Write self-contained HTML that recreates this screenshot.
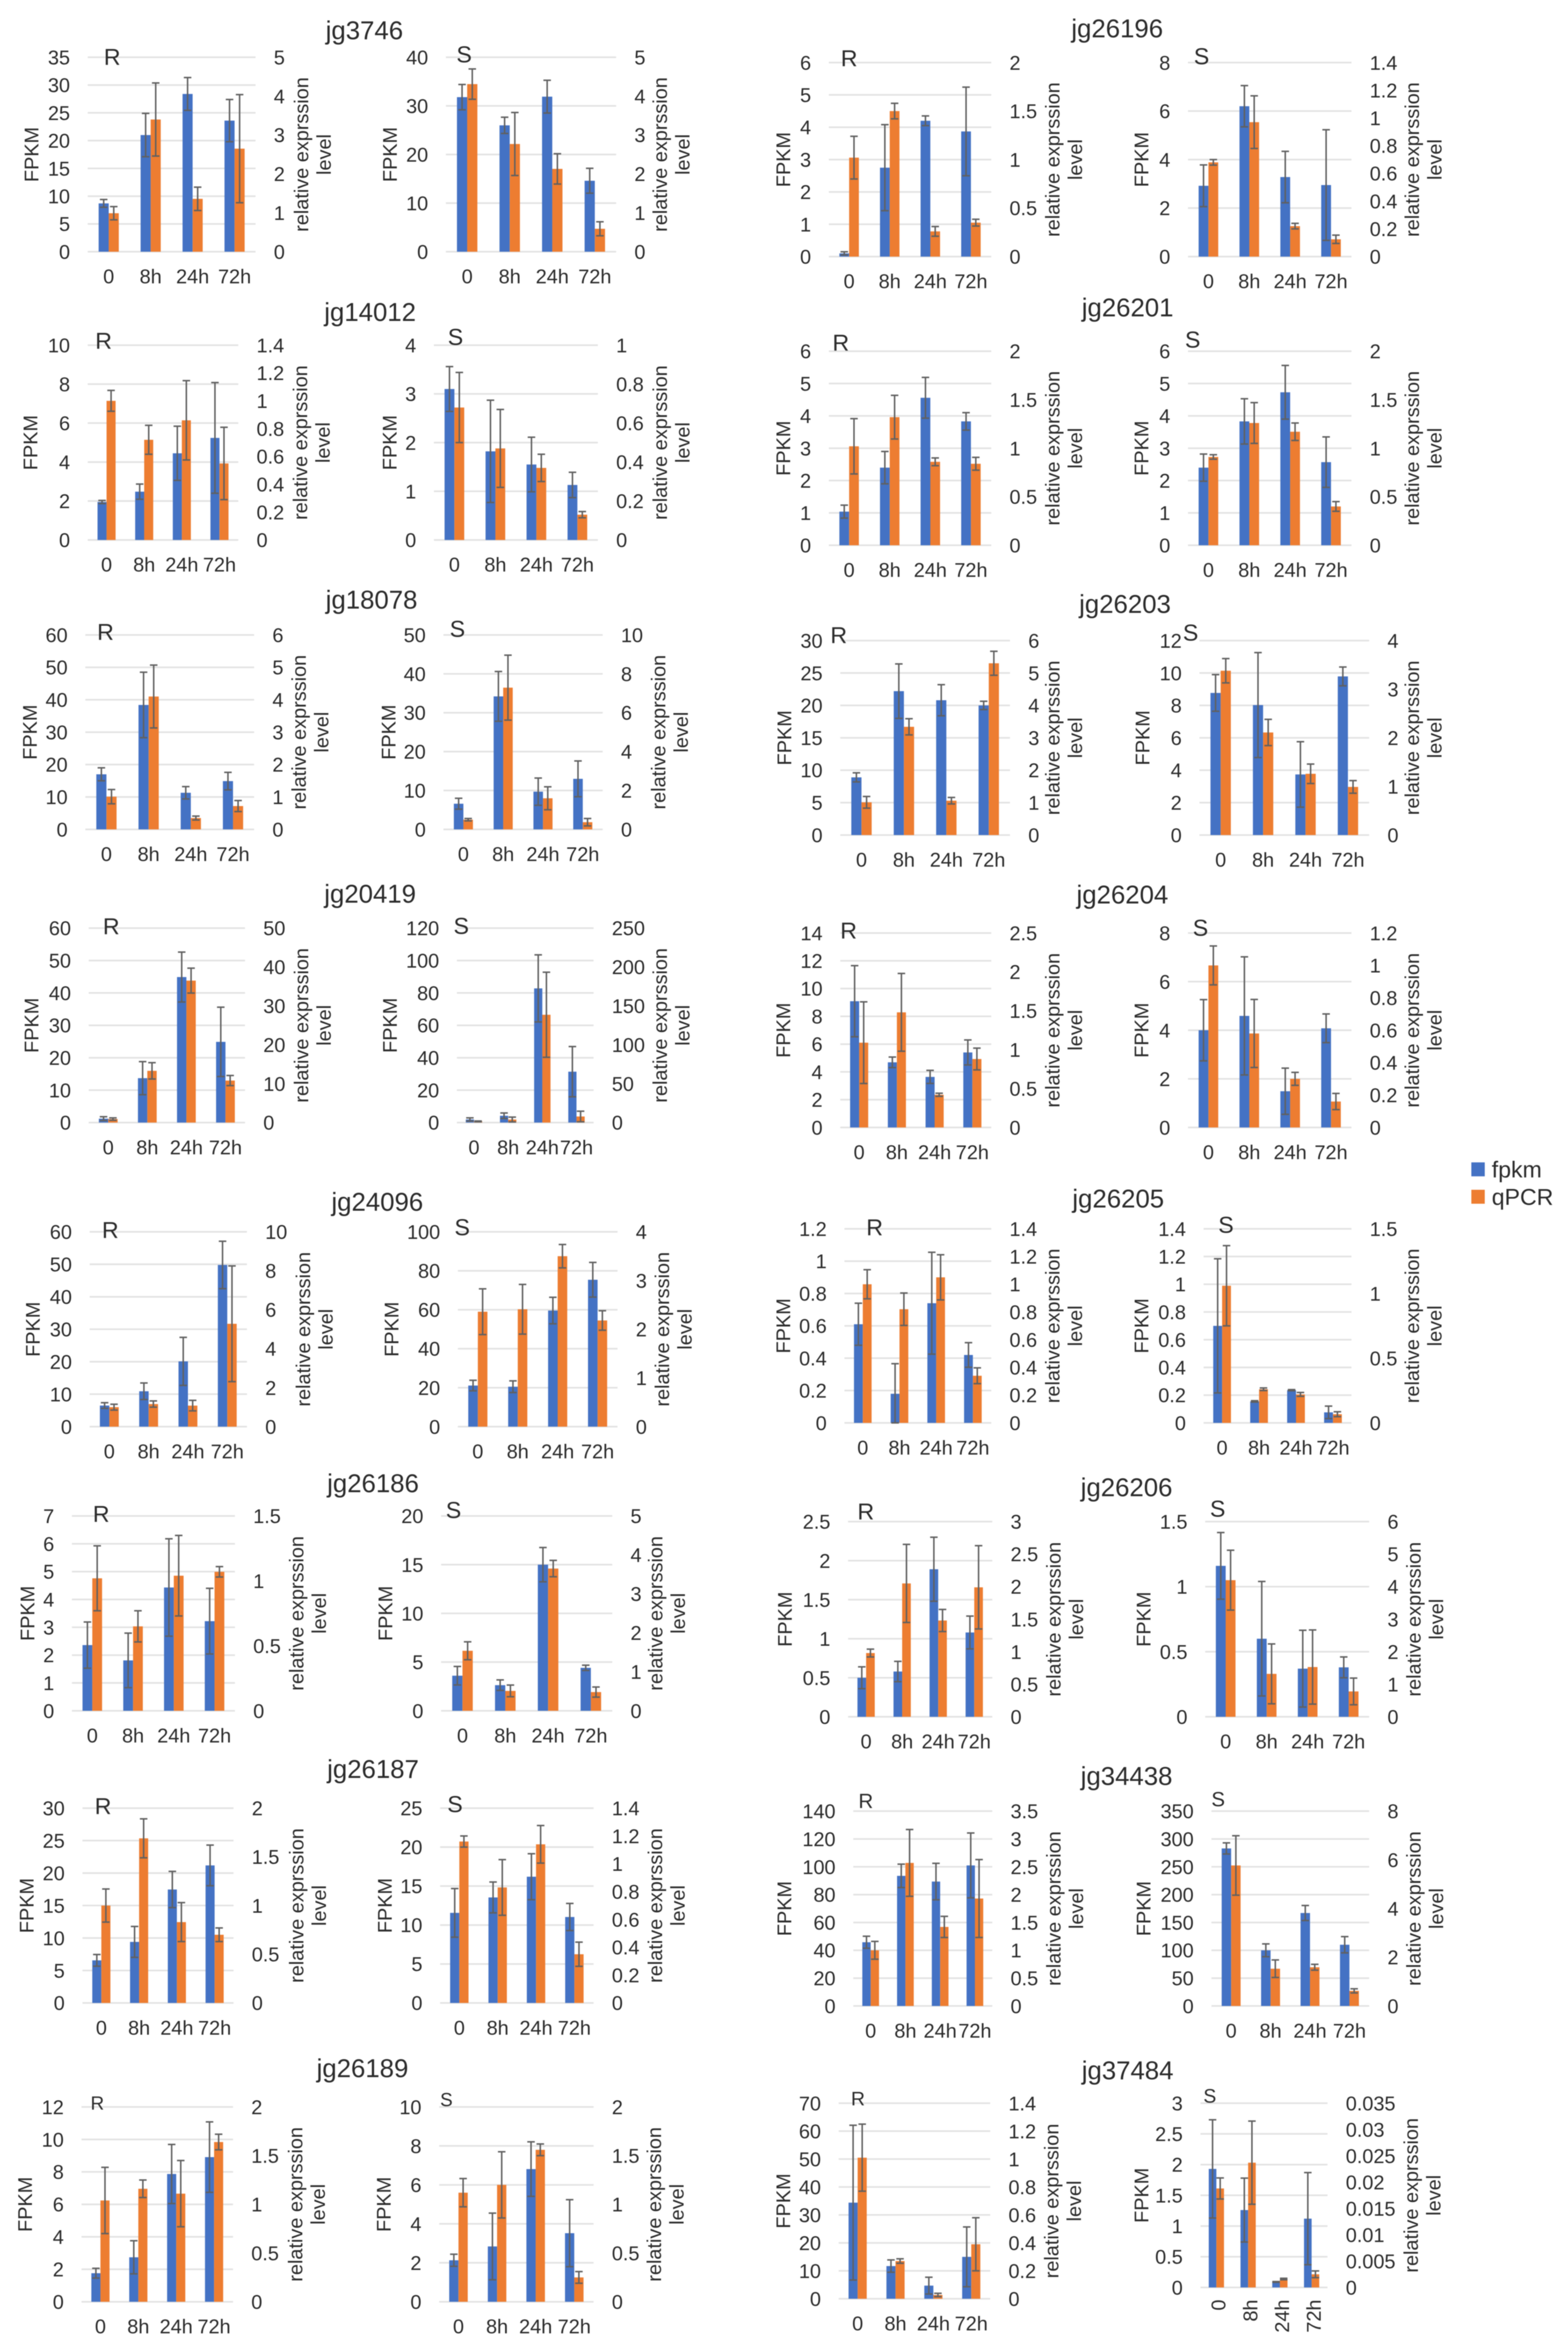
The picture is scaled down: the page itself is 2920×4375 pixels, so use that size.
<!DOCTYPE html>
<html lang="en">
<head>
<meta charset="utf-8">
<title>FPKM and qPCR expression charts</title>
<style>
html,body{margin:0;padding:0;background:#fff;width:2920px;height:4375px;overflow:hidden}
#figure{display:block;filter:blur(0.8px)}
text{font-family:"Liberation Sans",Arial,sans-serif;fill:#2b2b2b}
</style>
</head>
<body>
<svg id="figure" xmlns="http://www.w3.org/2000/svg" width="2920" height="4375" viewBox="0 0 2920 4375"></svg>
<script>
const geneNames = ['jg3746','jg14012','jg26196','jg26201','jg18078','jg20419','jg26203','jg26204','jg24096','jg26186','jg26205','jg26206','jg26187','jg26189','jg34438','jg37484'];
const panelGenes = ['jg3746','jg3746','jg14012','jg14012','jg26196','jg26196','jg26201','jg26201','jg18078','jg18078','jg20419','jg20419','jg26203','jg26203','jg26204','jg26204','jg24096','jg24096','jg26186','jg26186','jg26205','jg26205','jg26206','jg26206','jg26187','jg26187','jg26189','jg26189','jg34438','jg34438','jg37484','jg37484'];
const conditions = ['R','S','R','S','R','S','R','S','R','S','R','S','R','S','R','S','R','S','R','S','R','S','R','S','R','S','R','S','R','S','R','S'];
const categories = ['0','8h','24h','72h'];
const seriesNames = ['fpkm','qPCR'];

const leftTicks = [
[0,5,10,15,20,25,30,35],[0,10,20,30,40],[0,2,4,6,8,10],[0,1,2,3,4],
[0,1,2,3,4,5,6],[0,2,4,6,8],[0,1,2,3,4,5,6],[0,1,2,3,4,5,6],
[0,10,20,30,40,50,60],[0,10,20,30,40,50],[0,10,20,30,40,50,60],[0,20,40,60,80,100,120],
[0,5,10,15,20,25,30],[0,2,4,6,8,10,12],[0,2,4,6,8,10,12,14],[0,2,4,6,8],
[0,10,20,30,40,50,60],[0,20,40,60,80,100],[0,1,2,3,4,5,6,7],[0,5,10,15,20],
[0,0.2,0.4,0.6,0.8,1,1.2],[0,0.2,0.4,0.6,0.8,1,1.2,1.4],[0,0.5,1,1.5,2,2.5],[0,0.5,1,1.5],
[0,5,10,15,20,25,30],[0,5,10,15,20,25],[0,2,4,6,8,10,12],[0,2,4,6,8,10],
[0,20,40,60,80,100,120,140],[0,50,100,150,200,250,300,350],[0,10,20,30,40,50,60,70],[0,0.5,1,1.5,2,2.5,3]
];
const rightTicks = [
[0,1,2,3,4,5],[0,1,2,3,4,5],[0,0.2,0.4,0.6,0.8,1,1.2,1.4],[0,0.2,0.4,0.6,0.8,1],
[0,0.5,1,1.5,2],[0,0.2,0.4,0.6,0.8,1,1.2,1.4],[0,0.5,1,1.5,2],[0,0.5,1,1.5,2],
[0,1,2,3,4,5,6],[0,2,4,6,8,10],[0,10,20,30,40,50],[0,50,100,150,200,250],
[0,1,2,3,4,5,6],[0,1,2,3,4],[0,0.5,1,1.5,2,2.5],[0,0.2,0.4,0.6,0.8,1,1.2],
[0,2,4,6,8,10],[0,1,2,3,4],[0,0.5,1,1.5],[0,1,2,3,4,5],
[0,0.2,0.4,0.6,0.8,1,1.2,1.4],[0,0.5,1,1.5],[0,0.5,1,1.5,2,2.5,3],[0,1,2,3,4,5,6],
[0,0.5,1,1.5,2],[0,0.2,0.4,0.6,0.8,1,1.2,1.4],[0,0.5,1,1.5,2],[0,0.5,1,1.5,2],
[0,0.5,1,1.5,2,2.5,3,3.5],[0,2,4,6,8],[0,0.2,0.4,0.6,0.8,1,1.2,1.4],[0,0.005,0.01,0.015,0.02,0.025,0.03,0.035]
];

const fpkmValues = [
[8.7,21,28.4,23.6],[31.8,26,31.9,14.6],[1.95,2.48,4.45,5.24],[3.1,1.82,1.55,1.13],
[0.1,2.75,4.2,3.87],[2.92,6.2,3.28,2.95],[1.04,2.4,4.56,3.83],[2.4,3.83,4.73,2.57],
[17,38.4,11.3,14.9],[6.6,34.2,9.7,13],[1.2,13.7,44.9,24.9],[1.9,4.2,82.8,31.4],
[8.9,22.2,20.8,20],[8.77,8.02,3.74,9.79],[9.09,4.69,3.64,5.4],[4,4.59,1.49,4.08],
[6.5,10.9,20.1,49.8],[21.1,20.5,59.6,75.4],[2.36,1.81,4.43,3.22],[3.6,2.63,15,4.41],
[0.61,0.18,0.74,0.42],[0.7,0.155,0.236,0.076],[0.5,0.58,1.89,1.08],[1.16,0.6,0.37,0.38],
[6.56,9.4,17.47,21.18],[11.56,13.54,16.2,11.03],[1.76,2.74,7.87,8.91],[2.13,2.84,6.81,3.52],
[45.8,93.5,89.4,101],[283,100,167,110],[34.4,11.7,4.7,15],[1.93,1.26,0.09,1.12]
];
const fpkmErrors = [
[0.7,3.9,2.95,3.8],[2.6,1.67,3.37,2.56],[0.08,0.39,1.39,2.84],[0.46,1.05,0.56,0.26],
[0.05,1.33,0.15,1.37],[0.86,0.85,1.06,2.28],[0.2,0.5,0.63,0.27],[0.42,0.7,0.83,0.78],
[2,10.1,1.9,2.7],[1.4,6.4,3.5,4.6],[0.6,5.1,7.7,10.7],[1,1.7,20.7,15.5],
[0.7,4.2,2.4,0.64],[1.13,3.24,2.02,0.58],[2.56,0.38,0.47,0.9],[1.26,2.43,0.95,0.59],
[0.87,2.55,7.4,7.3],[2.7,3,6.8,8.9],[0.83,0.98,1.75,1.18],[0.95,0.54,1.76,0.27],
[0.13,0.186,0.315,0.076],[0.484,0.005,0.004,0.045],[0.14,0.13,0.41,0.21],[0.256,0.44,0.295,0.08],
[0.9,2.38,2.79,3.13],[3.12,1.98,2.95,1.74],[0.3,1.02,1.82,2.17],[0.31,1.71,1.4,1.72],
[4.3,8.4,13.1,23.3],[10,11.5,13.5,14.6],[27.7,2.2,3,10.7],[0.8,0.52,0.006,0.75]
];
const qpcrValues = [
[0.99,3.4,1.36,2.65],[4.31,2.77,2.13,0.59],[1,0.72,0.86,0.55],[0.68,0.47,0.37,0.13],
[1.02,1.5,0.26,0.35],[0.68,0.97,0.22,0.125],[1.02,1.32,0.86,0.84],[0.91,1.26,1.17,0.4],
[1.01,4.1,0.35,0.72],[0.5,7.29,1.6,0.37],[0.9,13.3,36.5,10.8],[1.5,3.9,138.6,7.8],
[1.01,3.34,1.06,5.3],[3.38,2.11,1.26,0.99],[1.09,1.48,0.42,0.88],[1,0.58,0.3,0.16],
[1,1.16,1.08,5.28],[2.36,2.41,3.5,2.18],[1.02,0.65,1.04,1.07],[1.54,0.51,3.65,0.48],
[1,0.82,1.05,0.34],[1.06,0.26,0.22,0.067],[0.98,2.05,1.48,1.99],[4.2,1.32,1.53,0.78],
[1,1.69,0.83,0.7],[1.16,0.83,1.14,0.35],[1.04,1.16,1.11,1.64],[1.12,1.2,1.56,0.25],
[1,2.57,1.42,1.93],[5.77,1.53,1.59,0.62],[1.01,0.27,0.027,0.39],[0.0188,0.0237,0.0016,0.0025]
];
const qpcrErrors = [
[0.17,0.94,0.3,1.39],[0.39,0.81,0.39,0.18],[0.075,0.104,0.285,0.26],[0.18,0.2,0.07,0.016],
[0.22,0.08,0.05,0.035],[0.02,0.19,0.02,0.03],[0.285,0.225,0.04,0.066],[0.023,0.21,0.09,0.05],
[0.22,0.97,0.06,0.17],[0.06,1.67,0.59,0.19],[0.3,2.1,3.2,1.3],[0.5,3.1,54.7,6.8],
[0.18,0.25,0.1,0.37],[0.25,0.27,0.2,0.13],[0.525,0.5,0.02,0.14],[0.12,0.21,0.04,0.05],
[0.15,0.16,0.27,2.97],[0.47,0.51,0.24,0.2],[0.25,0.12,0.31,0.04],[0.23,0.15,0.21,0.13],
[0.105,0.117,0.163,0.057],[0.31,0.01,0.015,0.019],[0.06,0.6,0.17,0.64],[0.92,0.92,1.14,0.41],
[0.17,0.2,0.2,0.07],[0.04,0.2,0.135,0.087],[0.34,0.09,0.34,0.08],[0.145,0.34,0.06,0.06],
[0.16,0.6,0.19,0.7],[1.22,0.36,0.12,0.085],[0.24,0.016,0.012,0.19],[0.002,0.0079,0.00014,0.00064]
];

/* ---------- page layout (not data): plot frames measured on the reference ---------- */
const COL_LEFT = 1.12, COL_RIGHT = 1568 / 1520, ROW = 1568 / 1100;
function regionToPage(region, zx, zy) {
  const right = region % 2 === 1;
  const rowOffset = [0, 1100, 2200, 3275][Math.floor(region / 2)];
  return { x: (right ? 1400 : 0) + zx / (right ? COL_RIGHT : COL_LEFT), y: rowOffset + zy / ROW };
}
/* region, plotLeft, plotRight, plotTop, plotBottom, fpkmTitleX, relTitleX, markX, markY, markSize */
const frames = [
[0,183,533,152,668,65,632,234,150,43],[0,930,1285,152,668,813,1380,968,143,43],
[0,183,497,916,1433,63,630,216,903,43],[0,905,1247,916,1433,812,1380,950,893,43],
[1,148,460,166,681,60,581,187,153,43],[1,838,1152,166,681,748,1272,864,148,43],
[1,148,460,932,1447,60,581,171,908,43],[1,838,1152,932,1447,748,1272,847,900,43],
[2,178,530,117,633,62,627,220,108,43],[2,925,1257,117,633,810,1377,954,100,43],
[2,185,511,895,1411,65,632,232,889,43],[2,953,1238,895,1411,813,1380,962,888,43],
[3,170,496,132,648,62,581,167,116,43],[3,860,1186,132,648,750,1272,843,110,43],
[3,170,460,908,1424,60,581,186,900,43],[3,838,1152,908,1424,748,1272,862,893,43],
[4,187,515,133,650,68,636,230,127,43],[4,955,1288,133,650,816,1385,964,120,43],
[4,150,490,887,1404,57,622,211,880,43],[4,920,1277,887,1404,803,1371,946,870,43],
[5,178,460,125,640,60,581,236,120,43],[5,868,1152,125,640,748,1272,911,113,43],
[5,185,462,902,1420,63,583,219,874,43],[5,871,1186,902,1420,752,1275,895,867,43],
[6,172,487,130,647,55,622,215,123,43],[6,918,1238,130,647,802,1370,949,118,43],
[6,170,486,923,1440,52,620,203,912,35],[6,916,1238,923,1440,800,1368,931,903,35],
[7,195,462,138,655,62,583,219,110,38],[7,883,1186,138,655,752,1275,896,105,38],
[7,167,458,913,1432,60,579,204,900,36],[7,862,1106,913,1402,748,1270,880,893,36]
];
/* region, centreX, centreY of each gene heading */
const titleSpots = [
[0,760,82],[0,772,830],[1,702,77],[1,722,818],[2,775,25],[2,772,806],[3,717,37],[3,712,808],
[4,787,55],[4,778,802],[5,704,47],[5,720,813],[6,778,28],[6,756,822],[7,720,47],[7,722,828]
];

const NS = 'http://www.w3.org/2000/svg';
const figure = document.getElementById('figure');
const BLUE = '#4472c4', ORANGE = '#ed7d31', GRID = '#e2e2e2', ERR = '#606060';
const TICK_SIZE = 37, LABEL_SIZE = 37, TITLE_SIZE = 48;

function make(parent, tag, attrs, text) {
  const el = document.createElementNS(NS, tag);
  for (const k in attrs) el.setAttribute(k, attrs[k]);
  if (text !== undefined) el.textContent = text;
  parent.appendChild(el);
  return el;
}
function axisScale(ticks, top, bottom) {
  const max = ticks[ticks.length - 1];
  return v => bottom - (v / max) * (bottom - top);
}
function categoryScale(left, right, count) {
  const step = (right - left) / count;
  return i => left + (i + 0.5) * step;
}
function drawErrorBar(group, x, yScale, value, err, series) {
  const hi = yScale(value + err), lo = yScale(Math.max(0, value - err));
  const stem = make(group, 'line', { x1: x, x2: x, y1: hi, y2: lo, stroke: ERR, 'stroke-width': 2.8 });
  
  
  [hi, lo].forEach(y => {
    const cap = make(group, 'line', { x1: x - 7, x2: x + 7, y1: y, y2: y, stroke: ERR, 'stroke-width': 2.8 });
    
    
  });
}
function drawPanel(p) {
  const f = frames[p];
  const tl = regionToPage(f[0], f[1], f[3]);
  const br = regionToPage(f[0], f[2], f[4]);
  const left = tl.x, right = br.x, top = tl.y, bottom = br.y;
  const catX = categoryScale(left, right, categories.length);
  const yLeft = axisScale(leftTicks[p], top, bottom);
  const yRight = axisScale(rightTicks[p], top, bottom);
  const barW = 0.24 * (right - left) / categories.length;
  const midY = (top + bottom) / 2;

  const group = make(figure, 'g', {});
  
  

  leftTicks[p].forEach(t => {
    const y = yLeft(t);
    const line = make(group, 'line', { x1: left, x2: right, y1: y, y2: y, stroke: GRID, 'stroke-width': 3 });
    
    
    const label = make(group, 'text', { x: left - 33, y: y + 0.36 * TICK_SIZE, 'font-size': TICK_SIZE, 'text-anchor': 'end' }, String(t));
    
    
  });
  rightTicks[p].forEach(t => {
    const label = make(group, 'text', { x: right + 34, y: yRight(t) + 0.36 * TICK_SIZE, 'font-size': TICK_SIZE }, String(t));
    
    
  });

  categories.forEach((c, i) => {
    const cx = catX(i);
    const fpkmBar = make(group, 'rect', { x: cx - barW, y: yLeft(fpkmValues[p][i]), width: barW, height: bottom - yLeft(fpkmValues[p][i]), fill: BLUE });
    
    
    const qpcrBar = make(group, 'rect', { x: cx, y: yRight(qpcrValues[p][i]), width: barW, height: bottom - yRight(qpcrValues[p][i]), fill: ORANGE });
    
    
  });
  categories.forEach((c, i) => {
    const cx = catX(i);
    drawErrorBar(group, cx - barW / 2, yLeft, fpkmValues[p][i], fpkmErrors[p][i], 'fpkm');
    drawErrorBar(group, cx + barW / 2, yRight, qpcrValues[p][i], qpcrErrors[p][i], 'qpcr');
    let attrs;
    if (p === 31) {
      const tx = cx + 17, ty = regionToPage(f[0], 0, 1434).y;
      attrs = { x: tx, y: ty, 'font-size': TICK_SIZE, 'text-anchor': 'end', transform: 'rotate(-90 ' + tx + ' ' + ty + ')' };
    } else {
      attrs = { x: cx, y: bottom + 65 / ROW + 0.36 * TICK_SIZE, 'font-size': TICK_SIZE, 'text-anchor': 'middle' };
    }
    const label = make(group, 'text', attrs, c);
    
    
  });

  const fx = regionToPage(f[0], f[5], 0).x + 0.36 * LABEL_SIZE;
  const yTitle = make(group, 'text', { x: fx, y: midY, 'font-size': LABEL_SIZE, 'text-anchor': 'middle', transform: 'rotate(-90 ' + fx + ' ' + midY + ')' }, 'FPKM');
  
  

  const rx = regionToPage(f[0], f[6], 0).x + 0.26 * LABEL_SIZE;
  const rel1 = make(group, 'text', { x: rx, y: midY, 'font-size': LABEL_SIZE, 'text-anchor': 'middle', transform: 'rotate(-90 ' + rx + ' ' + midY + ')' }, 'relative exprssion');
  
  
  const rx2 = rx + 42;
  const rel2 = make(group, 'text', { x: rx2, y: midY, 'font-size': LABEL_SIZE, 'text-anchor': 'middle', transform: 'rotate(-90 ' + rx2 + ' ' + midY + ')' }, 'level');
  
  

  const m = regionToPage(f[0], f[7], f[8]);
  const mark = make(group, 'text', { x: m.x, y: m.y + 0.36 * f[9], 'font-size': f[9], 'text-anchor': 'middle' }, conditions[p]);
  
  
}

for (let p = 0; p < frames.length; p++) drawPanel(p);

geneNames.forEach((name, i) => {
  const s = titleSpots[i];
  const pos = regionToPage(s[0], s[1], s[2]);
  const title = make(figure, 'text', { x: pos.x, y: pos.y + 3 + 0.255 * TITLE_SIZE, 'font-size': TITLE_SIZE, 'text-anchor': 'middle' }, name);
  
  
});

const legend = make(figure, 'g', {});


[[BLUE, 2164], [ORANGE, 2215]].forEach((spec, i) => {
  const swatch = make(legend, 'rect', { x: 2740, y: spec[1], width: 25, height: 26, fill: spec[0] });
  
  
  const label = make(legend, 'text', { x: 2778, y: spec[1] + 28, 'font-size': 43 }, seriesNames[i]);
  
  
});
</script>
</body>
</html>
